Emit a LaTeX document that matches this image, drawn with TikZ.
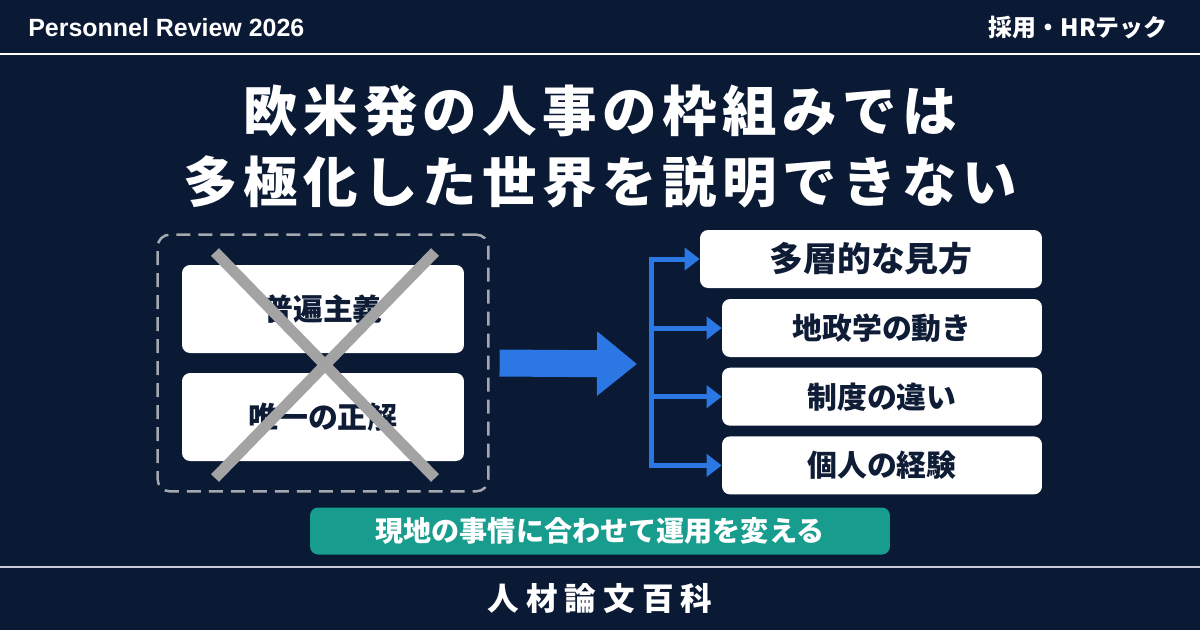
\documentclass[tikz,border=0pt]{standalone}
\usepackage{fontspec}
\setmainfont{Noto Sans CJK JP}
\newfontfamily\latinfont{Liberation Sans}
\usetikzlibrary{positioning,fit,calc,arrows.meta}
\usepackage{xcolor}
\definecolor{navybg}{HTML}{0A1934}
\definecolor{cardtext}{HTML}{0E1C36}
\definecolor{crossgray}{HTML}{A3A3A3}
\definecolor{framegray}{HTML}{A4A8B0}
\definecolor{flowblue}{HTML}{2B78E4}
\definecolor{noteteal}{HTML}{179C8E}
\definecolor{rulegray}{HTML}{C8CCD6}

\begin{document}
\begin{tikzpicture}[
    x=0.02cm, y=-0.02cm,
    card/.style={rectangle, rounded corners=0.16cm, fill=white, text=cardtext,
                 minimum width=5.64cm, minimum height=1.76cm,
                 font=\fontsize{17}{20}\selectfont\bfseries},
    view/.style={rectangle, rounded corners=0.16cm, fill=white, text=cardtext,
                 minimum width=6.4cm, minimum height=1.16cm,
                 font=\fontsize{17}{20}\selectfont\bfseries},
    frame/.style={rectangle, rounded corners=0.24cm, draw=framegray,
                  line width=0.05cm, dash pattern=on 0.28cm off 0.16cm,
                  inner xsep=0.48cm, inner ysep=0.6cm},
    cross/.style={draw=crossgray, line width=0.22cm},
    bigarr/.style={-{Triangle[length=0.8cm, width=1.24cm]}, line width=0.54cm, draw=flowblue},
    branch/.style={line width=0.1cm, draw=flowblue, line cap=rect},
    brarr/.style={-{Triangle[length=0.3cm, width=0.44cm]}, line width=0.1cm, draw=flowblue},
    title/.style={text=white, inner sep=0pt,
                  font=\fontsize{31}{36}\selectfont\bfseries\addfontfeature{LetterSpace=10}}
]
\useasboundingbox (0,0) rectangle (1200,630);
\fill[navybg] (0,0) rectangle (1200,630);

% header
\node[anchor=west, inner sep=0pt, text=white,
      font=\latinfont\fontsize{14.2}{16}\selectfont\bfseries] (series) at (28,28) {Personnel Review 2026};
\node[anchor=east, inner sep=0pt, text=white,
      font=\fontsize{13.6}{16}\selectfont\bfseries] (genre) at (1168,28) {採用・HRテック};
\draw[white, line width=0.04cm] (0,54) -- (1200,54);

% title
\node[title] (t1) at (600,111) {欧米発の人事の枠組みでは};
\node[title] (t2) at (600,182) {多極化した世界を説明できない};

% left: rejected views
\node[card] (univ) at (323,309) {普遍主義};
\node[card] (one) at (323,417) {唯一の正解};
\node[frame, fit=(univ)(one)] (old) {};
\draw[cross] (215,252) -- (435,478);
\draw[cross] (435,252) -- (215,478);

% right: views
\coordinate (fork) at (651,364);
\node[view, minimum width=6.84cm, font=\fontsize{19.3}{22}\selectfont\bfseries] (multi) at (871,259) {多層的な見方};
\node[view] (geo) at (882,328) {地政学の動き};
\node[view, below=0.2cm of geo] (inst) {制度の違い};
\node[view, below=0.2cm of inst] (pers) {個人の経験};

\draw[bigarr] ([xshift=0.2cm]old.east) -- ([xshift=-0.28cm]fork);
\draw[branch] (multi.west -| fork) -- (pers.west -| fork);
\foreach \v in {multi,geo,inst,pers}
  \draw[brarr] (\v.west -| fork) -- (\v.west);

% bottom note
\node[rectangle, rounded corners=0.16cm, fill=noteteal, text=white,
      minimum width=11.6cm, minimum height=0.94cm,
      font=\fontsize{16}{19}\selectfont\bfseries] (note) at (600,531) {現地の事情に合わせて運用を変える};

% footer
\draw[rulegray, line width=0.04cm] (0,567) -- (1200,567);
\node[text=white, inner sep=0pt,
      font=\fontsize{18}{21}\selectfont\bfseries\addfontfeature{LetterSpace=22}] (site) at (600,599) {人材論文百科};

\end{tikzpicture}
\end{document}
